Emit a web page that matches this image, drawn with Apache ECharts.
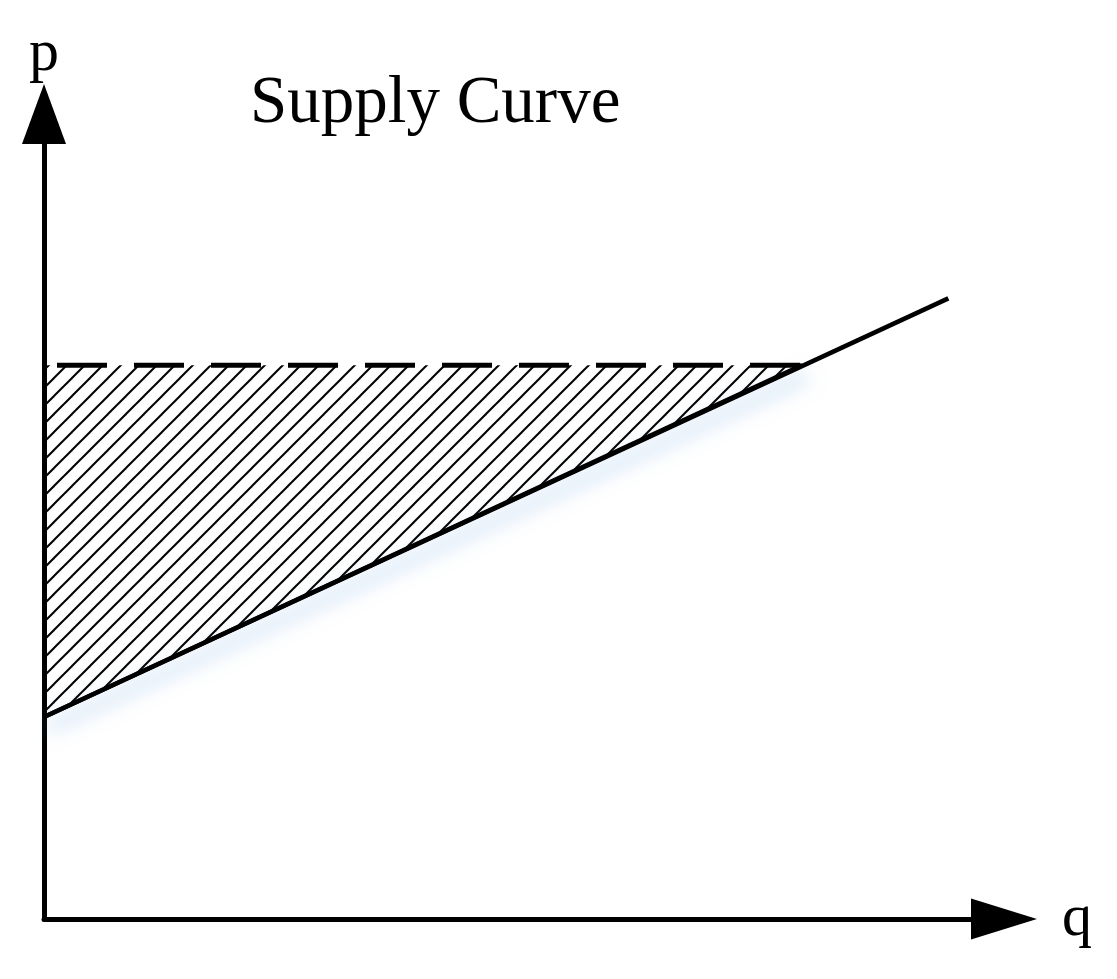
<!DOCTYPE html>
<html>
<head>
<meta charset="utf-8">
<title>Supply Curve</title>
<script src="https://cdn.jsdelivr.net/npm/echarts@6/dist/echarts.min.js"></script>
<style>
	html, body { margin: 0; padding: 0; background: #fff; }
	#chart { width: 1117px; height: 979px; }
</style>
</head>
<body>
<div id="chart"></div>
<script>
		// supply curve (q, p) in arbitrary units
		var supplyQ = [0, 94.2];
		var supplyP = [25.1, 77.1];

		// market price level and where it meets the supply curve
		var priceQ = [0, 79];
		var priceP = [68.8, 68.8];

		// producer surplus triangle
		var surplusQ = [0, 0, 79];
		var surplusP = [25.1, 68.8, 68.8];

		var axisMin = 0;
		var axisMax = 100;

		function pairs(xs, ys) {
			var out = [];
			for (var i = 0; i < xs.length; i++) {
				out.push([xs[i], ys[i]]);
			}
			return out;
		}

		// diagonal hatch tile
		var tile = document.createElement('canvas');
		tile.width = 18;
		tile.height = 18;
		var ctx = tile.getContext('2d');
		ctx.strokeStyle = '#000';
		ctx.lineWidth = 2;
		for (var k = -1; k <= 1; k++) {
			ctx.beginPath();
			ctx.moveTo(-2 + k * 18, 20);
			ctx.lineTo(20 + k * 18, -2);
			ctx.stroke();
		}
		var hatch = { image: tile, repeat: 'repeat' };

		var myChart = echarts.init(document.getElementById('chart'), null, { renderer: 'canvas' });

		var serif = 'Liberation Serif';

		var option = {
			backgroundColor: '#fff',
			animation: false,
			title: {
				text: 'Supply Curve',
				left: 245,
				top: 66,
				textStyle: { fontFamily: serif, fontSize: 67, fontWeight: 'normal', color: '#000' }
			},
			grid: { left: 44, right: 113, top: 114, bottom: 60 },
			xAxis: {
				type: 'value',
				min: axisMin,
				max: axisMax,
				name: 'q',
				nameLocation: 'end',
				nameGap: 58,
				nameTextStyle: { fontFamily: serif, fontSize: 60, color: '#000' },
				axisLine: {
					lineStyle: { color: '#000', width: 5 },
					symbol: ['none', 'triangle'],
					symbolSize: [41, 66]
				},
				axisTick: { show: false },
				axisLabel: { show: false },
				splitLine: { show: false }
			},
			yAxis: {
				type: 'value',
				min: axisMin,
				max: axisMax,
				name: 'p',
				nameLocation: 'end',
				nameGap: 30,
				nameTextStyle: { fontFamily: serif, fontSize: 60, color: '#000' },
				axisLine: {
					lineStyle: { color: '#000', width: 5 },
					symbol: ['none', 'triangle'],
					symbolSize: [44, 60]
				},
				axisTick: { show: false },
				axisLabel: { show: false },
				splitLine: { show: false }
			},
			series: [
				{
					name: 'surplus',
					type: 'custom',
					silent: true,
					z: 1,
					data: [[0, 0]],
					renderItem: function (params, api) {
						var pts = [];
						for (var i = 0; i < surplusQ.length; i++) {
							pts.push(api.coord([surplusQ[i], surplusP[i]]));
						}
						return {
							type: 'polygon',
							shape: { points: pts },
							style: { fill: hatch, stroke: null }
						};
					}
				},
				{
					// lower edge of the surplus area, with the soft blue glow
					name: 'edge',
					type: 'line',
					z: 2,
					silent: true,
					symbol: 'none',
					data: pairs([surplusQ[0], surplusQ[2]], [surplusP[0], surplusP[2]]),
					lineStyle: {
						color: '#000',
						width: 4.5,
						shadowColor: 'rgba(100,160,225,0.7)',
						shadowBlur: 20,
						shadowOffsetX: 4,
						shadowOffsetY: 11
					}
				},
				{
					name: 'price',
					type: 'line',
					z: 3,
					silent: true,
					symbol: 'none',
					data: pairs(priceQ, priceP),
					lineStyle: { color: '#000', width: 5, type: [50, 27], dashOffset: 64 }
				},
				{
					name: 'supply',
					type: 'line',
					z: 4,
					silent: true,
					symbol: 'none',
					data: pairs(supplyQ, supplyP),
					lineStyle: { color: '#000', width: 4.5 }
				}
			]
		};

		myChart.setOption(option);
</script>
</body>
</html>
